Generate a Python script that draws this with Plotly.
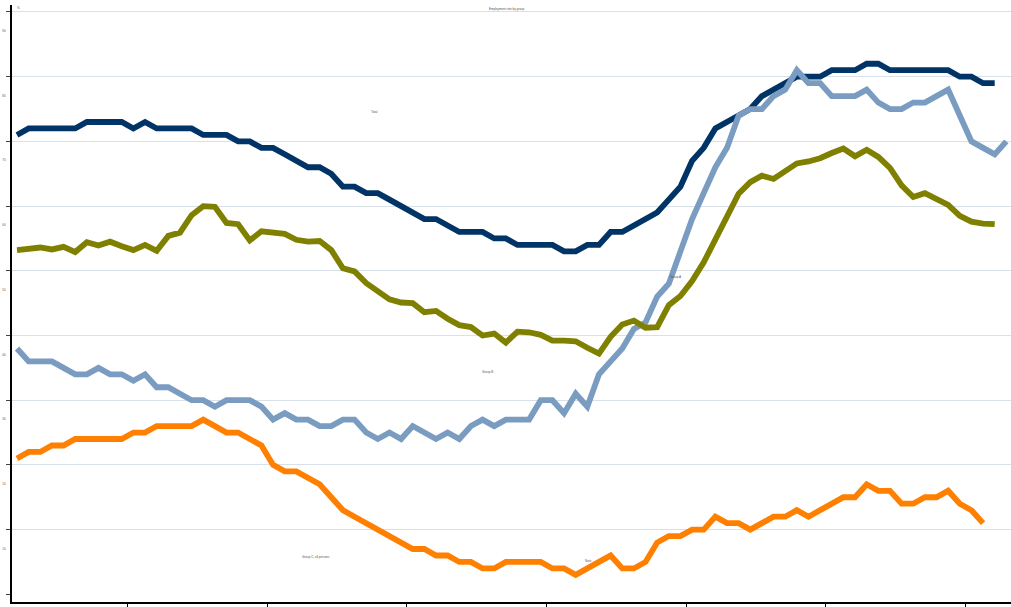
import plotly.graph_objects as go

# monthly observations, index 0..85
months = list(range(86))

navy = [71, 72, 72, 72, 72, 72, 73, 73, 73, 73, 72, 73, 72, 72, 72, 72, 71, 71, 71, 70,
        70, 69, 69, 68, 67, 66, 66, 65, 63, 63, 62, 62, 61, 60, 59, 58, 58, 57, 56, 56,
        56, 55, 55, 54, 54, 54, 54, 53, 53, 54, 54, 56, 56, 57, 58, 59, 61, 63, 67, 69,
        72, 73, 74, 75, 77, 78, 79, 80, 80, 80, 81, 81, 81, 82, 82, 81, 81, 81, 81, 81,
        81, 80, 80, 79, 79]

light_blue = [38, 36, 36, 36, 35, 34, 34, 35, 34, 34, 33, 34, 32, 32, 31, 30, 30, 29, 30, 30,
              30, 29, 27, 28, 27, 27, 26, 26, 27, 27, 25, 24, 25, 24, 26, 25, 24, 25, 24, 26,
              27, 26, 27, 27, 27, 30, 30, 28, 31, 29, 34, 36, 38, 41, 42, 46, 48, 53, 58, 62,
              66, 69, 74, 75, 75, 77, 78, 81, 79, 79, 77, 77, 77, 78, 76, 75, 75, 76, 76, 77,
              78, 74, 70, 69, 68, 70]

olive = [53.2, 53.4, 53.6, 53.3, 53.7, 52.9, 54.4, 53.9, 54.5, 53.8, 53.2, 54.0, 53.1, 55.4,
         55.9, 58.6, 60.0, 59.9, 57.4, 57.2, 54.7, 56.1, 56.0, 55.7, 54.8, 54.5, 54.6, 53.2,
         50.4, 49.9, 48.1, 46.9, 45.6, 45.1, 45.0, 43.6, 43.8, 42.6, 41.6, 41.3, 40.0, 40.3,
         38.9, 40.6, 40.5, 40.1, 39.2, 39.2, 39.1, 38.1, 37.2, 39.8, 41.7, 42.3, 41.2, 41.3,
         44.7, 46.1, 48.4, 51.3, 55.0, 58.7, 61.9, 63.7, 64.7, 64.2, 65.4, 66.6, 66.9, 67.4,
         68.2, 68.9, 67.7, 68.7, 67.6, 65.9, 63.2, 61.4, 62.0, 61.0, 60.2, 58.5, 57.6, 57.3,
         57.2]

orange = [21, 22, 22, 23, 23, 24, 24, 24, 24, 24, 25, 25, 26, 26, 26, 26, 27, 26, 25, 25,
          24, 23, 20, 19, 19, 18, 17, 15, 13, 12, 11, 10, 9, 8, 7, 7, 6, 6, 5, 5,
          4, 4, 5, 5, 5, 5, 4, 4, 3, 4, 5, 6, 4, 4, 5, 8, 9, 9, 10, 10,
          12, 11, 11, 10, 11, 12, 12, 13, 12, 13, 14, 15, 15, 17, 16, 16, 14, 14, 15, 15,
          16, 14, 13, 11]

series = [
    ("Total", navy, "rgb(0,51,102)"),
    ("Group A", light_blue, "rgb(122,156,192)"),
    ("Group B", olive, "rgb(128,128,0)"),
    ("Group C", orange, "rgb(255,128,0)"),
]

grid_vals = [10, 20, 30, 40, 50, 60, 70, 80, 90]
grid_text = ["10", "20", "30", "40", "50", "60", "70", "80", "90"]
year_ticks = [9.5, 21.5, 33.5, 45.5, 57.5, 69.5, 81.5]

fig = go.Figure()
for name, vals, color in series:
    fig.add_trace(go.Scatter(
        x=months[:len(vals)], y=vals, name=name, mode="lines",
        line=dict(color=color, width=5.8),
    ))

small = dict(family="Arial", size=3, color="#555")
notes = [
    ("Employment rate by group", 0.495, 0.993),
    ("Total", 0.363, 0.820),
    ("Group A", 0.664, 0.544),
    ("Group B", 0.476, 0.386),
    ("Group C, all persons", 0.304, 0.075),
    ("Note", 0.577, 0.069),
]

fig.update_layout(
    width=1011, height=607,
    margin=dict(l=12, r=0, t=5, b=5),
    paper_bgcolor="white", plot_bgcolor="white",
    showlegend=False,
    xaxis=dict(
        range=[-0.43, 85.4], tickvals=year_ticks, showticklabels=False,
        ticks="outside", ticklen=5, tickcolor="black", tickwidth=1,
        showline=True, linecolor="black", linewidth=1.5,
        showgrid=False, zeroline=False, automargin=False,
    ),
    yaxis=dict(
        range=[-1.19, 91.08], tickvals=grid_vals, ticktext=grid_text,
        ticklabelshift=19, tickfont=small,
        ticks="outside", ticklen=4, tickcolor="#444", tickwidth=1,
        showgrid=True, gridcolor="rgb(216,224,234)", gridwidth=1.3,
        minor=dict(tickmode="array", tickvals=[0], ticks="outside", ticklen=4,
                   tickcolor="#444", showgrid=False),
        showline=True, linecolor="black", linewidth=1.5,
        zeroline=False, automargin=False,
    ),
    annotations=[
        dict(text=t, x=x, y=y, xref="paper", yref="paper", showarrow=False,
             font=small, xanchor="center", yanchor="middle")
        for t, x, y in notes
    ] + [dict(text="%", x=0.003, y=0.995, xref="paper", yref="paper",
              showarrow=False, font=small, xanchor="left", yanchor="middle")],
)

# drop the browser's default page margin so the figure sits at the window corner
fig.write_html(
    "out.html",
    config={"displayModeBar": False},
    post_script="document.body.style.margin='0';document.body.style.overflow='hidden';",
)
